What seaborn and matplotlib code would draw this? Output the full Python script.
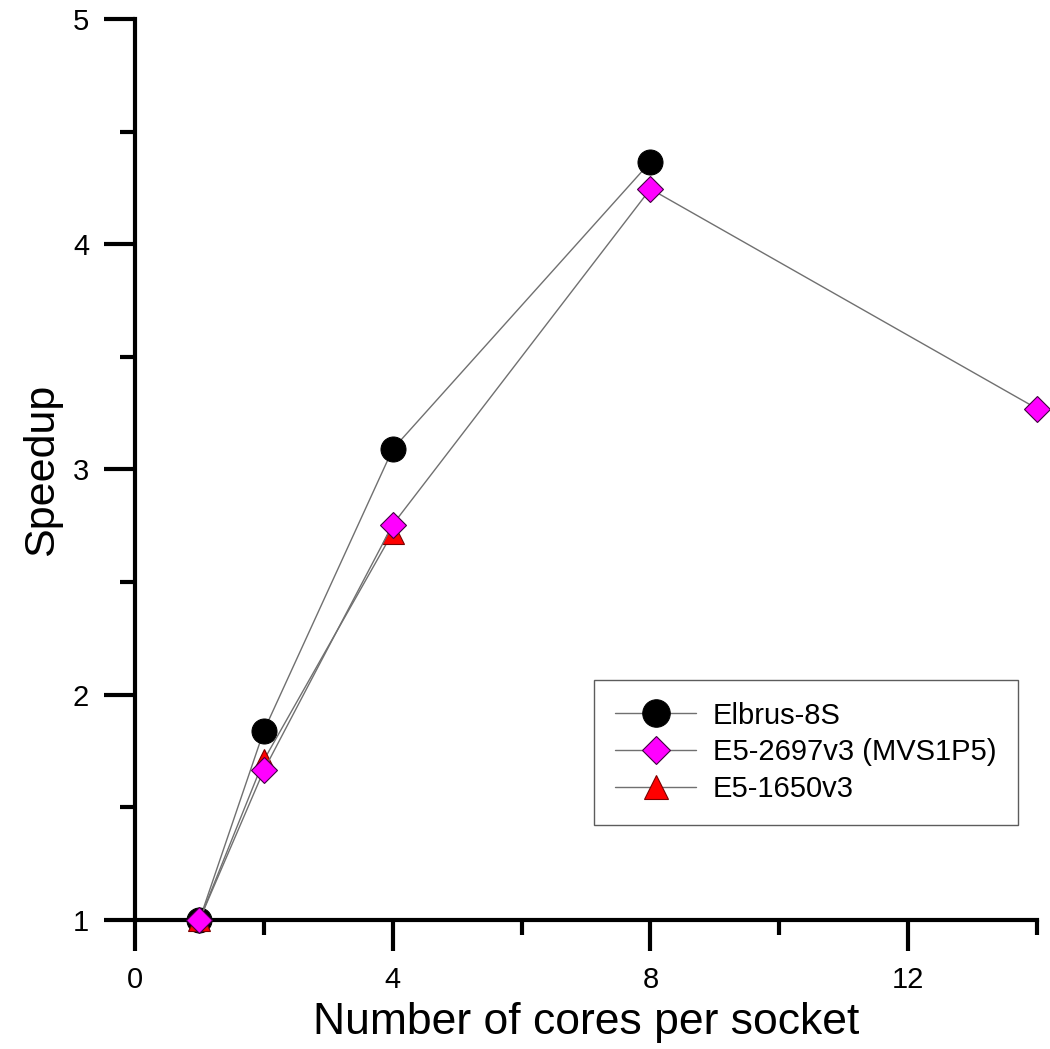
import numpy as np
import pandas as pd
import seaborn as sns
import matplotlib.pyplot as plt
from matplotlib.ticker import MultipleLocator

# speedup data
cores_elbrus = [1, 2, 4, 8]
speedup_elbrus = [1.0, 1.84, 3.09, 4.365]

cores_2697 = [1, 2, 4, 8, 14]
speedup_2697 = [1.0, 1.665, 2.755, 4.245, 3.27]

cores_1650 = [1, 2, 4]
speedup_1650 = [1.0, 1.71, 2.72]

sns.set_style("ticks")
plt.rcParams['font.family'] = ['Liberation Sans', 'DejaVu Sans']
plt.rcParams['text.color'] = 'black'
plt.rcParams['axes.labelcolor'] = 'black'
plt.rcParams['xtick.color'] = 'black'
plt.rcParams['ytick.color'] = 'black'

fig = plt.figure(figsize=(10.5, 10.49), dpi=100)
ax = fig.add_axes([0.1286, 0.123, 0.8590, 0.859])

line_kw = dict(color='#707070', linewidth=1.0, clip_on=False)

df_e = pd.DataFrame({'x': cores_elbrus, 'y': speedup_elbrus})
df_t = pd.DataFrame({'x': cores_1650, 'y': speedup_1650})
df_d = pd.DataFrame({'x': cores_2697, 'y': speedup_2697})

sns.lineplot(data=df_e, x='x', y='y', ax=ax, marker='o', markersize=18,
             markerfacecolor='black', markeredgecolor='black', zorder=3, **line_kw)
sns.lineplot(data=df_t, x='x', y='y', ax=ax, marker='^', markersize=16,
             markerfacecolor='red', markeredgecolor='#7a0000', markeredgewidth=0.8,
             zorder=4, **line_kw)
sns.lineplot(data=df_d, x='x', y='y', ax=ax, marker='D', markersize=13,
             markerfacecolor='#ff00ff', markeredgecolor='#400040', markeredgewidth=0.8,
             zorder=5, **line_kw)

lines = ax.get_lines()
handles = [lines[0], lines[2], lines[1]]
labels = ['Elbrus-8S', 'E5-2697v3 (MVS1P5)', 'E5-1650v3']
leg = ax.legend(handles, labels, loc='lower right', bbox_to_anchor=(0.9795, 0.1054),
                fontsize=21, frameon=True, fancybox=False, handlelength=2.75,
                borderpad=0.75, labelspacing=0.3, handletextpad=0.6,
                borderaxespad=0, markerscale=1.1)
leg.get_frame().set_edgecolor('#333333')
leg.get_frame().set_linewidth(1.0)

ax.set_xlim(0, 14)
ax.set_ylim(1, 5)
ax.xaxis.set_major_locator(MultipleLocator(4))
ax.xaxis.set_minor_locator(MultipleLocator(2))
ax.yaxis.set_major_locator(MultipleLocator(1))
ax.yaxis.set_minor_locator(MultipleLocator(0.5))

ax.tick_params(which='major', direction='out', length=22, width=3, labelsize=21,
               pad=11, color='black', labelcolor='black')
ax.tick_params(which='minor', direction='out', length=11, width=3, color='black')

sns.despine(ax=ax)
for s in ['left', 'bottom']:
    ax.spines[s].set_linewidth(3)
    ax.spines[s].set_color('black')

ax.set_xlabel('Number of cores per socket', fontsize=32, labelpad=6)
ax.set_ylabel('Speedup', fontsize=31, labelpad=8)

fig.savefig('out.png', dpi=100)
